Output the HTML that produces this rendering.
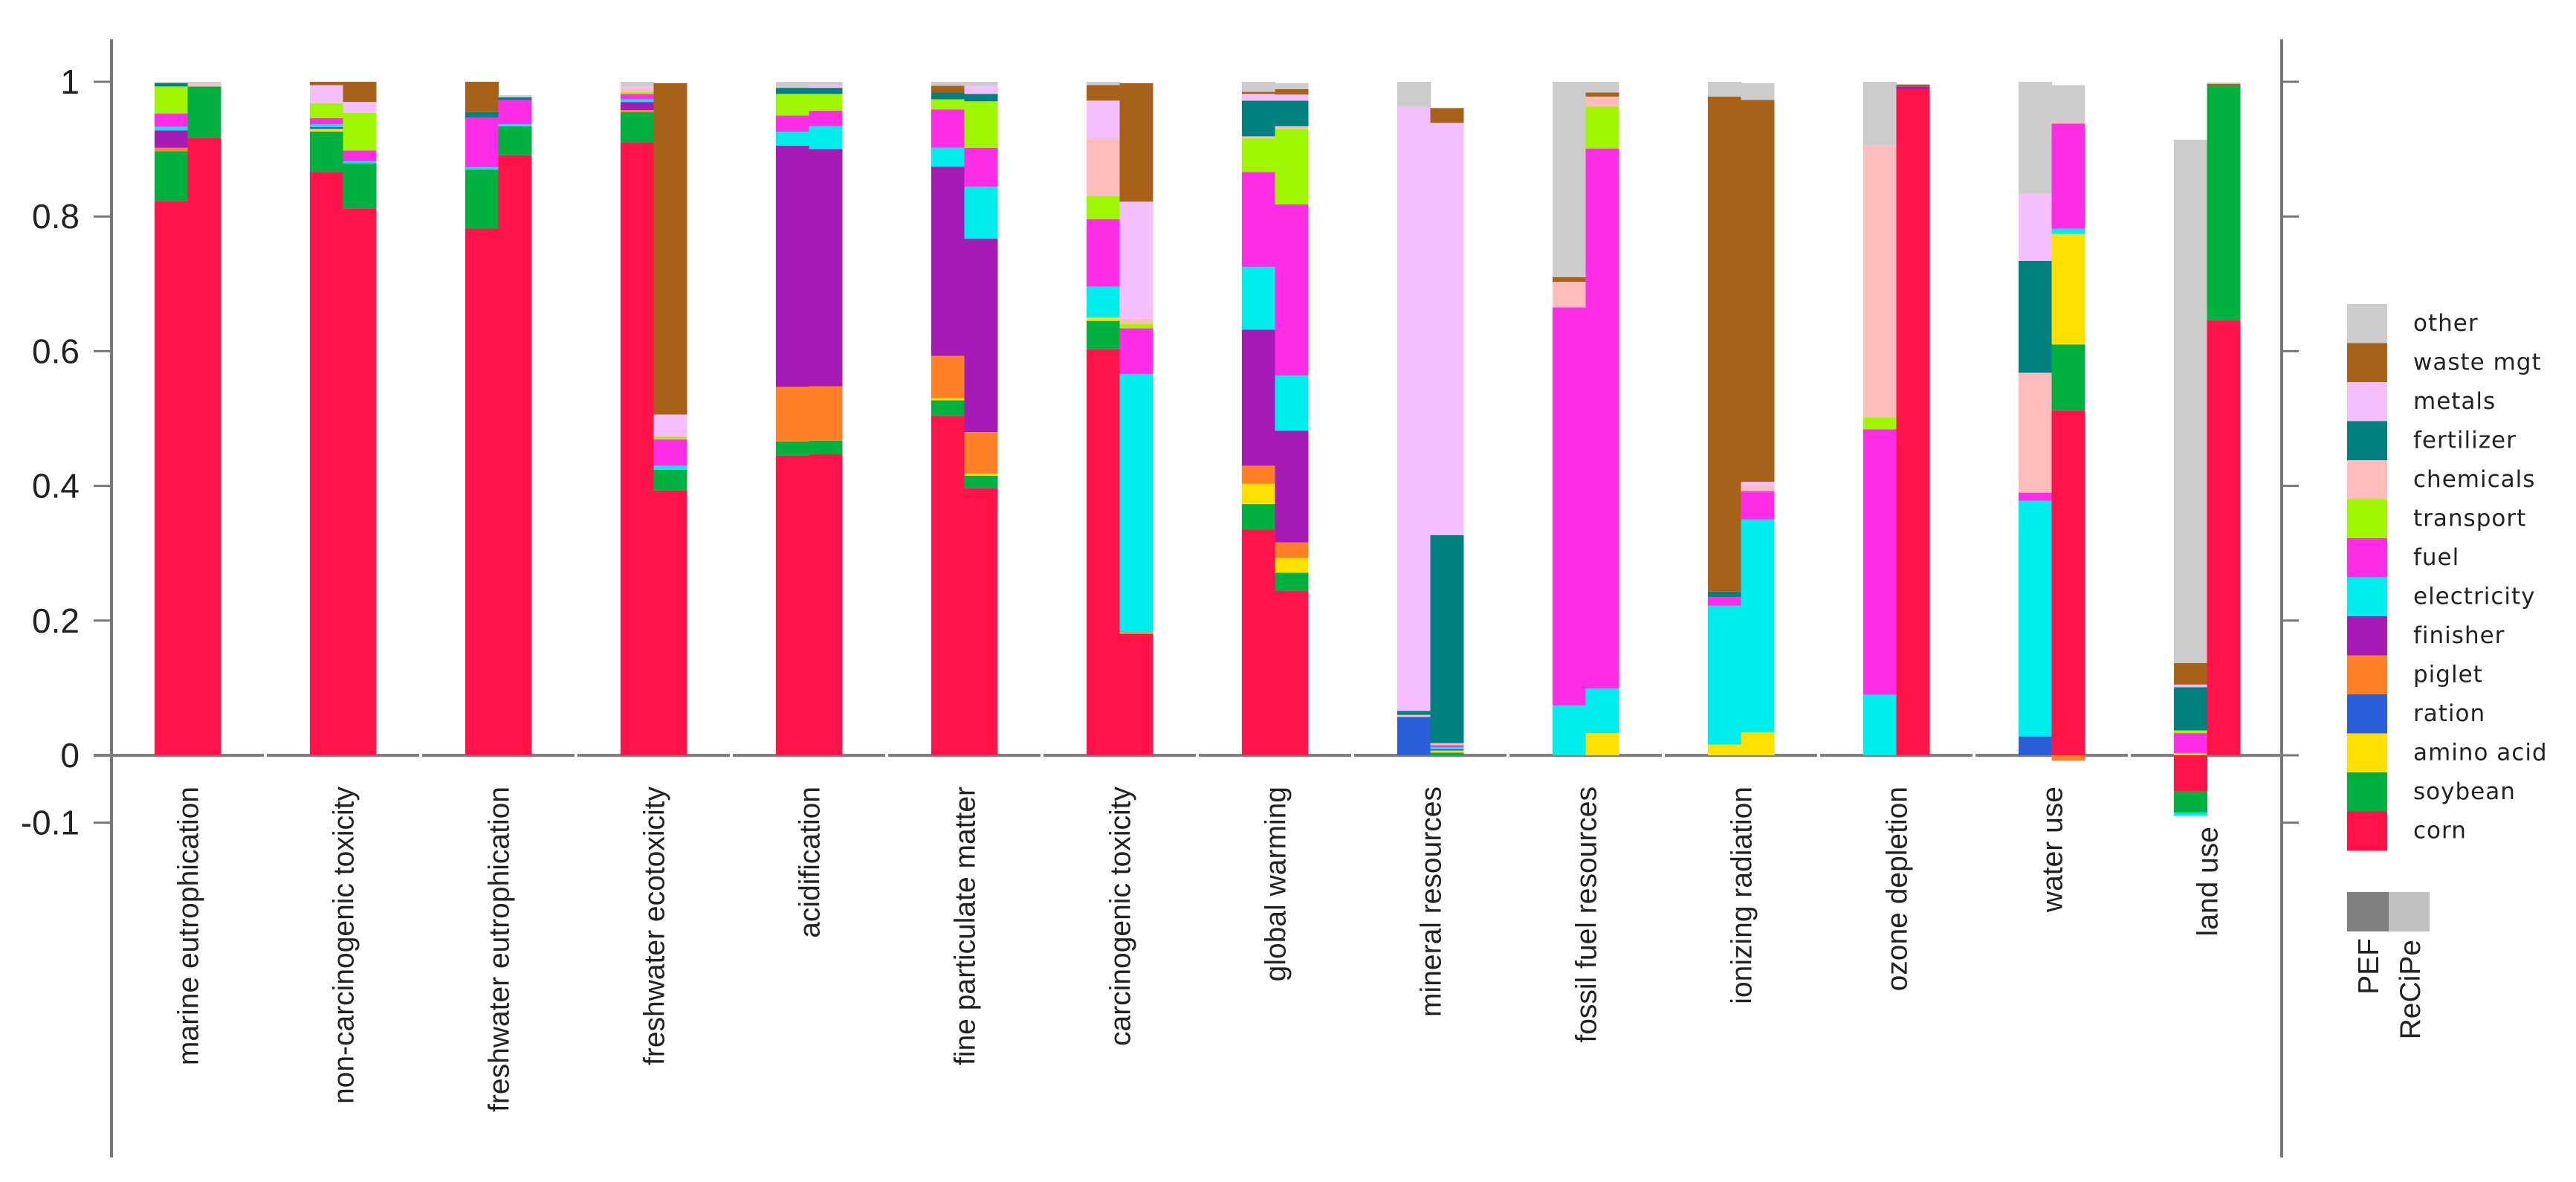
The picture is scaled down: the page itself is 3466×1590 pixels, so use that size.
<!DOCTYPE html>
<html><head><meta charset="utf-8">
<style>
html,body{margin:0;padding:0;background:#fff;}
svg{display:block;}
text{font-family:"Liberation Sans",Arial,sans-serif;fill:#222;}
</style></head>
<body>
<svg id="chart" width="3466" height="1590" viewBox="0 0 3466 1590" xmlns="http://www.w3.org/2000/svg">
<g id="axes"></g>
<g id="bars"></g>
<g id="labels"></g>
<g id="legend"></g>
</svg>
<script>
const categories = ["marine eutrophication","non-carcinogenic toxicity","freshwater eutrophication","freshwater ecotoxicity","acidification","fine particulate matter","carcinogenic toxicity","global warming","mineral resources","fossil fuel resources","ionizing radiation","ozone depletion","water use","land use"];
const methods = ["PEF","ReCiPe"];
const seriesNames = ["corn","soybean","amino acid","ration","piglet","finisher","electricity","fuel","transport","chemicals","fertilizer","metals","waste mgt","other"];
const seriesColors = ["#ff1449","#00b140","#ffe000","#2b5fd9","#ff8026","#a61ab5","#00eded","#ff2ee6","#a0f500","#ffbcbc","#008080","#f5bfff","#a86118","#cccccc"];
const yTicks = [1,0.8,0.6,0.4,0.2,0,-0.1];
const yTickLabels = ["1","0.8","0.6","0.4","0.2","0","-0.1"];
// each entry: [PEF, ReCiPe] per category
const corn = [[.823,.917],[.866,.812],[.782,.891],[.910,.393],[.445,.447],[.504,.397],[.603,.180],[.335,.244],[0,0],[0,0],[0,0],[0,.989],[0,.512],[-.054,.646]];
const soybean = [[.074,.076],[.06,.067],[.088,.043],[.045,.031],[.021,.02],[.023,.018],[.042,0],[.038,.027],[0,.004],[0,0],[0,0],[0,0],[0,.098],[-.031,.348]];
const aminoAcid = [[0,0],[.004,0],[0,0],[0,0],[0,0],[.003,.003],[.005,0],[.03,.022],[0,.003],[0,.033],[.016,.034],[0,0],[0,.164],[.003,0]];
const ration = [[0,0],[.003,0],[0,0],[0,0],[0,0],[0,0],[0,0],[0,0],[.057,.002],[0,0],[0,0],[0,0],[.028,0],[0,0]];
const piglet = [[.005,0],[0,0],[0,0],[.003,0],[.081,.081],[.063,.062],[0,.003],[.027,.023],[0,0],[0,0],[0,0],[0,0],[0,-.008],[0,0]];
const finisher = [[.026,0],[0,0],[0,0],[.012,0],[.358,.352],[.281,.287],[0,0],[.202,.166],[0,0],[0,0],[0,0],[0,.004],[0,0],[0,0]];
const electricity = [[.005,0],[.004,.003],[.003,.003],[.004,.006],[.021,.034],[.028,.077],[.046,.383],[.093,.082],[0,.003],[.074,.066],[.206,.316],[.09,0],[.35,.008],[-.005,0]];
const fuel = [[.02,0],[.009,.016],[.074,.036],[.008,.039],[.024,.023],[.057,.058],[.1,.068],[.141,.254],[0,.003],[.591,.802],[.013,.042],[.394,0],[.012,.156],[.03,0]];
const transport = [[.04,0],[.022,.056],[0,0],[.003,.004],[.032,.025],[.015,.069],[.034,.007],[.05,.112],[0,0],[0,.062],[0,0],[.018,0],[0,0],[.004,0]];
const chemicals = [[0,.004],[0,0],[0,0],[.005,0],[0,0],[0,0],[.086,.007],[.003,.004],[.003,.003],[.038,.015],[0,.008],[.404,0],[.178,.003],[0,0]];
const fertilizer = [[.005,0],[0,0],[.008,.004],[0,0],[.009,.009],[.01,.011],[0,0],[.053,.038],[.006,.309],[0,0],[.008,0],[0,0],[.166,0],[.064,0]];
const metals = [[0,0],[.027,.016],[0,0],[.003,.033],[0,.004],[0,.012],[.056,.174],[.01,.009],[.897,.612],[0,0],[0,.006],[0,0],[.1,0],[.004,0]];
const wasteMgt = [[0,0],[.005,.03],[.045,0],[0,.492],[0,0],[.01,0],[.023,.176],[.003,.008],[0,.022],[.007,.006],[.735,.567],[0,.003],[0,0],[.032,.003]];
const other = [[.002,.003],[0,0],[0,.003],[.007,0],[.009,.005],[.006,.006],[.005,0],[.015,.009],[.037,0],[.29,.016],[.022,.025],[.094,0],[.166,.054],[.777,.002]];
const seriesData = [corn,soybean,aminoAcid,ration,piglet,finisher,electricity,fuel,transport,chemicals,fertilizer,metals,wasteMgt,other];

const NS = "http://www.w3.org/2000/svg";
const Y0 = 1016, UNIT = 906;
function yScale(v){ return Y0 - v*UNIT; }
const GROUP0 = 208, GROUP_STEP = 209, BAR_W = 44.5;
function xScale(g, m){ return GROUP0 + g*GROUP_STEP + m*BAR_W; }
function mk(tag, attrs, parent){ const e=document.createElementNS(NS,tag); for(const k in attrs) e.setAttribute(k,attrs[k]); parent.appendChild(e); return e; }

const axes = document.getElementById('axes');
const LEFT = 150, RIGHT = 3070;
let l = mk('line',{x1:LEFT,y1:53,x2:LEFT,y2:1557,stroke:'#777','stroke-width':4},axes);


l = mk('line',{x1:RIGHT,y1:53,x2:RIGHT,y2:1557,stroke:'#777','stroke-width':4},axes);


yTicks.forEach((v,i)=>{
  const y=yScale(v);
  let t=mk('line',{x1:126,y1:y,x2:LEFT,y2:y,stroke:'#777','stroke-width':3},axes);
  
  
  t=mk('line',{x1:RIGHT,y1:y,x2:3093,y2:y,stroke:'#777','stroke-width':3},axes);
  
  
  const tx=mk('text',{x:107,y:y+16,'text-anchor':'end','font-size':46},axes);
  tx.textContent=yTickLabels[i];
  
  
});
for(let g=0; g<categories.length; g++){
  const start = g===0 ? 126 : xScale(g,0) - (GROUP_STEP-2*BAR_W)/2 + 2;
  const end = g===categories.length-1 ? RIGHT : xScale(g+1,0) - (GROUP_STEP-2*BAR_W)/2 - 2;
  const s=mk('line',{x1:start,y1:Y0,x2:end,y2:Y0,stroke:'#808080','stroke-width':4},axes);
  
  
}

const bars = document.getElementById('bars');
for(let g=0; g<categories.length; g++){
  for(let m=0; m<2; m++){
    let pos=0, neg=0;
    seriesData.forEach((arr,si)=>{
      const v=arr[g][m];
      if(!v) return;
      let y1,y2;
      if(v>0){ y1=yScale(pos+v); y2=yScale(pos); pos+=v; }
      else { y1=yScale(neg); y2=yScale(neg+v); neg+=v; }
      const r=mk('rect',{x:xScale(g,m),y:y1,width:BAR_W+0.5,height:Math.max(y2-y1,0.5),fill:seriesColors[si]},bars);
      
      
    });
  }
}

const labels = document.getElementById('labels');
categories.forEach((c,g)=>{
  const cx = xScale(g,1);
  const top = (g===categories.length-1) ? 1112 : 1058;
  const t=mk('text',{x:0,y:0,'text-anchor':'end','font-size':39,transform:`translate(${cx+14},${top}) rotate(-90)`},labels);
  t.textContent=c;
  
  
});

const legend = document.getElementById('legend');
const legendOrder = seriesNames.map((n,i)=>i).reverse();
legendOrder.forEach((si,row)=>{
  const y = 409 + row*52.5;
  const r=mk('rect',{x:3158,y:y,width:54,height:53,fill:seriesColors[si]},legend);
  
  
  const t=mk('text',{x:3247,y:y+36,'font-size':31,style:'font-family:"DejaVu Sans",sans-serif;letter-spacing:1px'},legend);
  t.textContent=seriesNames[si];
  
  
});
let r=mk('rect',{x:3158,y:1200,width:56,height:53,fill:'#808080'},legend);


r=mk('rect',{x:3214,y:1200,width:55,height:53,fill:'#c0c0c0'},legend);


let t=mk('text',{x:0,y:0,'text-anchor':'end','font-size':39,transform:'translate(3200,1262) rotate(-90)'},legend);
t.textContent='PEF';


t=mk('text',{x:0,y:0,'text-anchor':'end','font-size':39,transform:'translate(3256,1264) rotate(-90)'},legend);
t.textContent='ReCiPe';


</script>
</body></html>
